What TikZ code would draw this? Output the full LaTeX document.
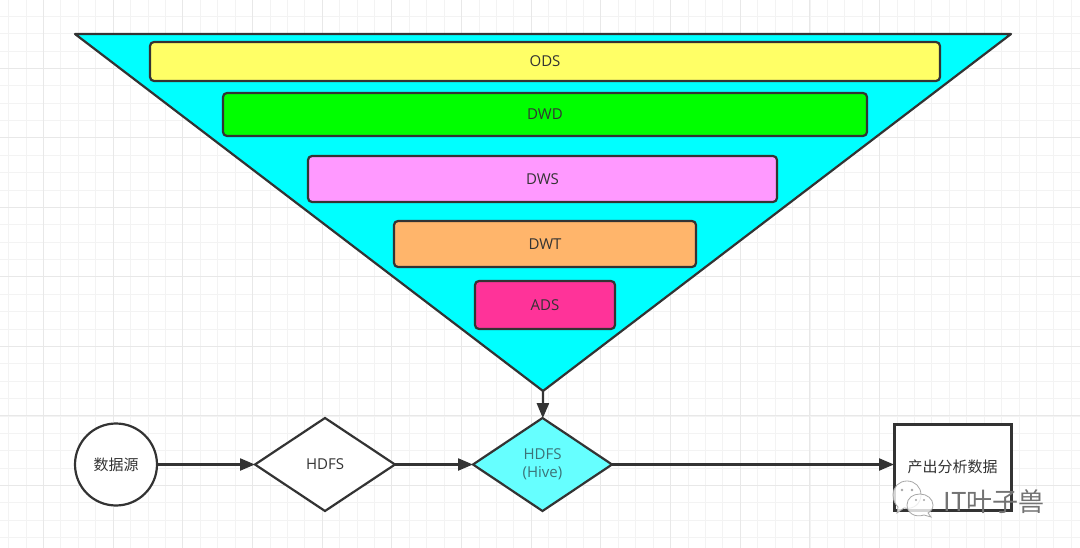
\documentclass[tikz,border=0pt]{standalone}
\usepackage{fontspec}
\setmainfont{Open Sans}
\newfontfamily\cjk{Noto Sans CJK SC}
\usepackage{tikz}
\usetikzlibrary{positioning,shapes.geometric,arrows.meta}
\definecolor{inkgray}{HTML}{333333}
\definecolor{gridminor}{HTML}{F3F3F3}
\definecolor{gridmajor}{HTML}{E8E8E8}
\definecolor{funnelcyan}{HTML}{00FFFF}
\tikzstyle{arrow} = [line width=2.2pt, draw=inkgray, -{Triangle[length=15pt,width=12pt]}]
\tikzstyle{layernode} = [
    rectangle,                 % Shape
    draw=inkgray,              % Border color
    line width=2.2pt,
    rounded corners=4pt,
    inner sep=0pt,
    outer sep=0pt,
    text=inkgray,
    text centered,
    font=\fontsize{15}{18}\selectfont
]
\tikzstyle{flownode} = [
    draw=inkgray,
    line width=2.2pt,
    inner sep=0pt,
    outer sep=0pt,
    fill=white,
    text=inkgray,
    align=center,
    font=\fontsize{15}{18}\selectfont
]
\tikzstyle{decision} = [flownode, diamond, minimum width=139pt, minimum height=93pt]

\begin{document}
\begin{tikzpicture}[x=1pt,y=-1pt]
		\useasboundingbox (0,0) rectangle (1080,548);
		\fill[white] (0,0) rectangle (1080,548);

		% Background grid
		\foreach \i in {0,...,62} {
			\draw[gridminor, line width=1pt] ({8.7+17.42*\i},0) -- ({8.7+17.42*\i},548);
		}
		\foreach \i in {0,...,31} {
			\draw[gridminor, line width=1pt] (0,{16.3+17.38*\i}) -- (1080,{16.3+17.38*\i});
		}
		\foreach \i in {0,...,12} {
			\draw[gridmajor, line width=1pt] ({43.5+69.68*\i},0) -- ({43.5+69.68*\i},548);
		}
		\foreach \i in {0,...,7} {
			\draw[gridmajor, line width=1pt] (0,{68.4+69.5*\i}) -- (1080,{68.4+69.5*\i});
		}

		% Funnel
		\coordinate (funnel_left) at (75,34);
		\coordinate (funnel_right) at (1011,34);
		\coordinate (funnel_tip) at (543,391);
		\draw[draw=inkgray, line width=2.2pt, line join=round, fill=funnelcyan] (funnel_left) -- (funnel_right) -- (funnel_tip) -- cycle;

		% Layers
		\node[layernode, fill={rgb,255:red,255;green,255;blue,102}, minimum width=790pt, minimum height=39pt, anchor=north] (ods) at (545,42) {ODS};
		\node[layernode, fill=green, minimum width=644pt, minimum height=43pt, below=12pt of ods] (dwd) {DWD};
		\node[layernode, fill={rgb,255:red,255;green,153;blue,255}, minimum width=469pt, minimum height=46pt, below=20pt of dwd, xshift=-2.5pt] (dws) {DWS};
		\node[layernode, fill={rgb,255:red,255;green,181;blue,107}, minimum width=302pt, minimum height=46pt, below=19pt of dws, xshift=2.5pt] (dwt) {DWT};
		\node[layernode, fill={rgb,255:red,255;green,51;blue,153}, minimum width=140pt, minimum height=48pt, below=14pt of dwt] (ads) {ADS};

		% Flow
		\node[flownode, circle, minimum size=82pt] (source) at (116,464.5) {\cjk 数据源};
		\node[decision, minimum width=140pt, right=98pt of source] (hdfs) {HDFS};
		\node[decision, right=78pt of hdfs, fill={rgb,255:red,102;green,255;blue,255}, text={rgb,255:red,60;green,115;blue,120}] (hive) {HDFS\\(Hive)};
		\node[flownode, rectangle, line width=3pt, minimum width=117pt, minimum height=86pt, right=282pt of hive, yshift=-2.5pt] (output) {\raisebox{2pt}{\cjk 产出分析数据}};

		% Arrows
		\draw[arrow] (funnel_tip) -- (hive);
		\draw[arrow] (source) -- (hdfs);
		\draw[arrow] (hdfs) -- (hive);
		\draw[arrow] (hive) -- (hive -| output.west);

		% Watermark
		\begin{scope}[draw=gray!70, fill=white, fill opacity=0.8, line width=0.8pt]
			\filldraw (898,507) -- (897,513) -- (904,508) .. controls (914,510) and (921,503) .. (921,495) .. controls (921,487) and (915,481) .. (907,481) .. controls (899,481) and (893,487) .. (893,495) .. controls (893,500) and (895,504) .. (898,507) -- cycle;
			\filldraw (928,513) -- (931,517) -- (924,515) .. controls (915,518) and (907,513) .. (907,505) .. controls (907,498) and (913,494) .. (920,494) .. controls (927,494) and (933,499) .. (933,505) .. controls (933,509) and (931,511) .. (928,513) -- cycle;
			\fill[gray!70, fill opacity=1] (902,490) circle (1.3) (912,490) circle (1.3) (916,500) circle (1.1) (924,500) circle (1.1);
		\end{scope}
		\node[text=gray!90!black, font=\cjk\fontsize{26}{28}\selectfont, inner sep=0pt] (mark) at (994,502) {IT叶子兽};
	\end{tikzpicture}
\end{document}
